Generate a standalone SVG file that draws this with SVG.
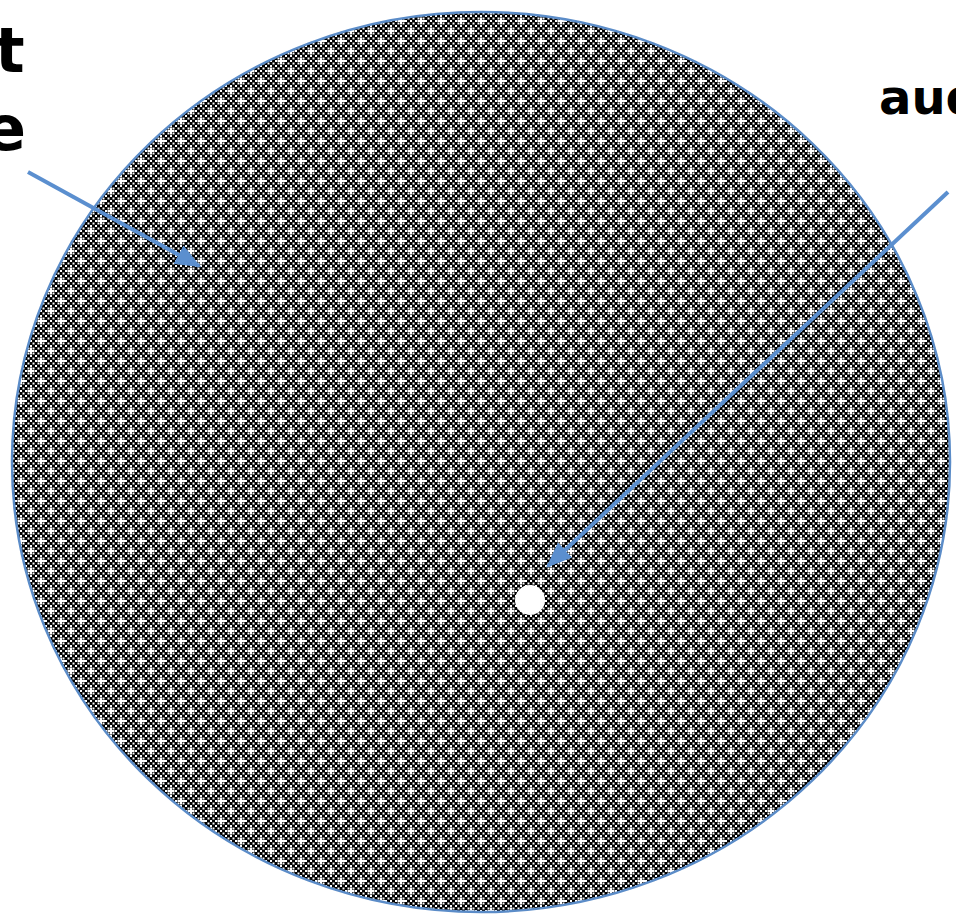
<svg xmlns="http://www.w3.org/2000/svg" width="956" height="921" viewBox="0 0 956 921">
<defs>
<pattern id="chk" width="20" height="20" patternUnits="userSpaceOnUse">
<rect width="20" height="20" fill="#000"/>
<path fill="#fff" d="M0 0h2v2H0zM5 0h2v2H5zM10 0h2v2H10zM15 0h2v2H15zM2.5 2.5h2v2H2.5zM7.5 2.5h2v2H7.5zM12.5 2.5h2v2H12.5zM17.5 2.5h2v2H17.5zM0 5h2v2H0zM5 5h2v2H5zM10 5h2v2H10zM15 5h2v2H15zM2.5 7.5h2v2H2.5zM7.5 7.5h2v2H7.5zM12.5 7.5h2v2H12.5zM17.5 7.5h2v2H17.5zM0 10h2v2H0zM5 10h2v2H5zM10 10h2v2H10zM15 10h2v2H15zM2.5 12.5h2v2H2.5zM7.5 12.5h2v2H7.5zM12.5 12.5h2v2H12.5zM17.5 12.5h2v2H17.5zM0 15h2v2H0zM5 15h2v2H5zM10 15h2v2H10zM15 15h2v2H15zM2.5 17.5h2v2H2.5zM7.5 17.5h2v2H7.5zM12.5 17.5h2v2H12.5zM17.5 17.5h2v2H17.5z"/>
<path fill="#fff" d="M0 0h5v2H0zM17.5 0h2.5v2H17.5zM0 0h2v4.5H0zM0 17.5h2v2.5H0zM7.5 10h7v2H7.5zM10 7.5h2v7H10z"/>
</pattern>
<marker id="ah" viewBox="0 0 10 10" refX="9" refY="5" markerWidth="6.5" markerHeight="6.5" orient="auto" markerUnits="strokeWidth">
<path d="M0 1L10 5L0 9z" fill="#5B8FCF"/>
</marker>
<style>
.lbl{font-family:"DejaVu Sans",Verdana,sans-serif;font-weight:bold;fill:#000}
.big{font-size:62px}
.mid{font-size:48px}
.arr{stroke:#5B8FCF;stroke-width:4;fill:none;marker-end:url(#ah)}
</style>
</defs>
<rect width="956" height="921" fill="#fff"/>
<g id="disc">
<ellipse cx="481" cy="462" rx="469" ry="450" fill="url(#chk)" stroke="#5B8CC8" stroke-width="2.5"/>
</g>
<g id="hole">
<circle cx="530" cy="600" r="15" fill="#fff"/>
</g>
<g id="label-left">
<text class="lbl big" x="-5" y="72">t</text>
<text class="lbl big" x="-16" y="150">e</text>
</g>
<g id="label-right">
<text class="lbl mid" x="879" y="114">aud</text>
</g>
<g id="connectors">
<line class="arr" x1="28" y1="172" x2="199" y2="266"/>
<line class="arr" x1="948" y1="192" x2="548" y2="566"/>
</g>
</svg>
